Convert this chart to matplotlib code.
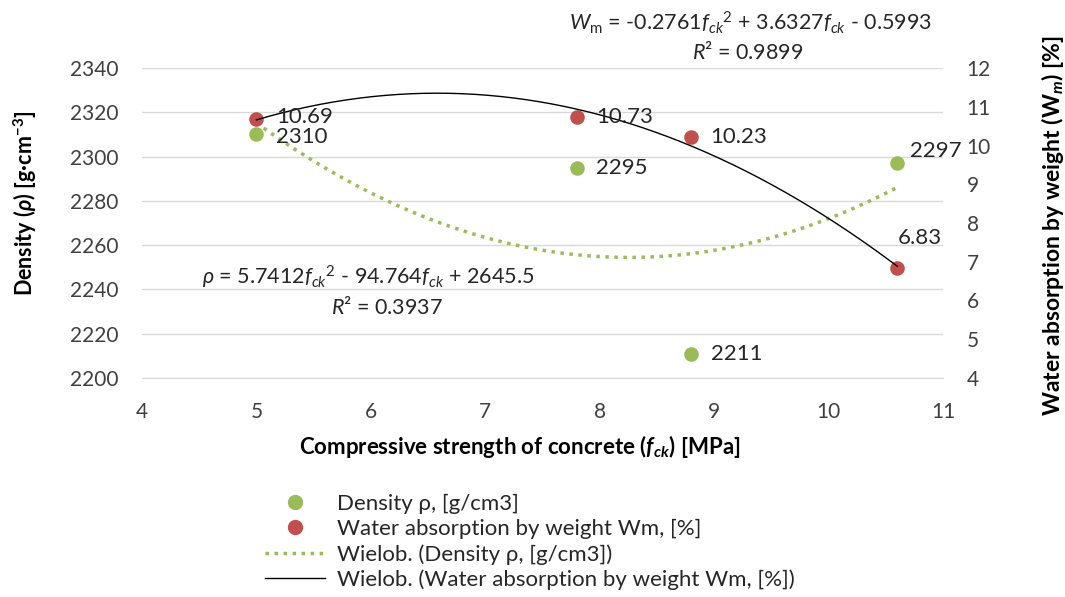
import numpy as np
import matplotlib
matplotlib.use("Agg")
import matplotlib.pyplot as plt
from matplotlib.lines import Line2D

plt.rcParams['font.family'] = ['Lato', 'DejaVu Sans']
plt.rcParams['mathtext.fontset'] = 'custom'
plt.rcParams['mathtext.rm'] = 'Lato'
plt.rcParams['mathtext.it'] = 'Lato:italic'
plt.rcParams['mathtext.bf'] = 'Lato:bold'
plt.rcParams['mathtext.bfit'] = 'Lato:bold:italic'

# ---- data ----
fck = [5.0, 7.8, 8.8, 10.6]
density = [2310, 2295, 2211, 2297]
water = [10.69, 10.73, 10.23, 6.83]
density_coef = [5.7412, -94.764, 2645.5]
water_coef = [-0.2761, 3.6327, -0.5993]
xticks = [4, 5, 6, 7, 8, 9, 10, 11]
left_ticks = [2200, 2220, 2240, 2260, 2280, 2300, 2320, 2340]
right_ticks = [4, 5, 6, 7, 8, 9, 10, 11, 12]

GREEN = '#9BBB59'
RED = '#C0504D'
TXT = '#404040'
DARK = '#262626'

fig = plt.figure(figsize=(10.65, 5.97), dpi=100)
ax = fig.add_axes([142/1065, 1-378/597, (943-142)/1065, (378-68)/597])
ax2 = ax.twinx()

ax.set_xlim(4, 11)
ax.set_ylim(2200, 2340)
ax2.set_ylim(4, 12)
ax.set_xticks(xticks)
ax.set_yticks(left_ticks)
ax2.set_yticks(right_ticks)

for a in (ax, ax2):
    for s in a.spines.values():
        s.set_visible(False)
    a.tick_params(length=0, labelsize=15, colors=TXT)
ax.spines['bottom'].set_visible(True)
ax.spines['bottom'].set_color('#D9D9D9')
ax.tick_params(axis='x', pad=17)
ax.tick_params(axis='y', pad=17)
ax2.tick_params(axis='y', pad=17)
ax.grid(axis='y', color='#D9D9D9', linewidth=1)
ax.set_axisbelow(True)

# trendlines
xs = np.linspace(fck[0], fck[-1], 200)
ax.plot(xs, np.polyval(density_coef, xs), color=GREEN, linestyle=(0, (1, 1.6)),
        linewidth=2.5, zorder=2)
ax2.plot(xs, np.polyval(water_coef, xs), color='black', linewidth=1, zorder=4)

# points
ax.scatter(fck, density, s=110, color=GREEN, zorder=3, linewidths=0)
ax2.scatter(fck, water, s=110, color=RED, zorder=3, linewidths=0)

# data labels
d_off = [(14, -1.5), (14, 0), (14, 0), (9, 9)]
w_off = [(14, 1.5), (14, 0), (14, 0), (0.7, 21.5)]
for x, y, o in zip(fck, density, d_off):
    ax.annotate(f"{y}", (x, y), xytext=o, textcoords='offset points',
                ha='left', va='center', fontsize=16, color=DARK, zorder=5)
for x, y, o in zip(fck, water, w_off):
    ax2.annotate(f"{y:.2f}", (x, y), xytext=o, textcoords='offset points',
                 ha='left', va='center', fontsize=16, color=DARK, zorder=5)

# equations
fig.text(368/1065, 1-277/597,
         r"$\rho$ = 5.7412$f_{ck}$$^2$ - 94.764$f_{ck}$ + 2645.5",
         ha='center', va='center', fontsize=15.5, color=DARK)
fig.text(387/1065, 1-307/597, r"$R$² = 0.3937",
         ha='center', va='center', fontsize=15.5, color=DARK)
fig.text(750/1065, 1-23/597,
         r"$W_{\mathrm{m}}$ = -0.2761$f_{ck}$$^2$ + 3.6327$f_{ck}$ - 0.5993",
         ha='center', va='center', fontsize=15.5, color=DARK)
fig.text(748/1065, 1-52/597, r"$R$² = 0.9899",
         ha='center', va='center', fontsize=15.5, color=DARK)

# axis labels
fig.text(520/1065, 1-446/597,
         r"Compressive strength of concrete ($\mathbfit{f}_{\mathbfit{ck}}$) [MPa]",
         ha='center', va='center', fontsize=16, fontweight='bold', color='black')
fig.text(25/1065, 1-203/597, r"Density ($\mathbfit{\rho}$) [g·cm$^{\mathbf{-3}}$]",
         ha='center', va='center', rotation=90, fontsize=15.5, fontweight='bold')
fig.text(1053/1065, 1-226/597,
         r"Water absorption by weight ($\mathbf{W}_{\mathbfit{m}}$) [%]",
         ha='center', va='center', rotation=90, fontsize=16.5, fontweight='bold')

# legend
handles = [
    Line2D([], [], marker='o', color=GREEN, linestyle='none', markersize=10),
    Line2D([], [], marker='o', color=RED, linestyle='none', markersize=10),
    Line2D([], [], color=GREEN, linestyle=(0, (1, 1.6)), linewidth=2.5),
    Line2D([], [], color='black', linewidth=1),
]
labels = ["Density ρ, [g/cm3]", "Water absorption by weight Wm, [%]",
          "Wielob. (Density ρ, [g/cm3])",
          "Wielob. (Water absorption by weight Wm, [%])"]
leg = fig.legend(handles, labels, loc='upper left',
                 bbox_to_anchor=(265/1065, 1-494/597), frameon=False,
                 fontsize=16, handlelength=2.7, handletextpad=0.54,
                 labelspacing=0.22, borderpad=0, borderaxespad=0)
for t in leg.get_texts():
    t.set_color(DARK)

fig.savefig("out.png", dpi=100)
